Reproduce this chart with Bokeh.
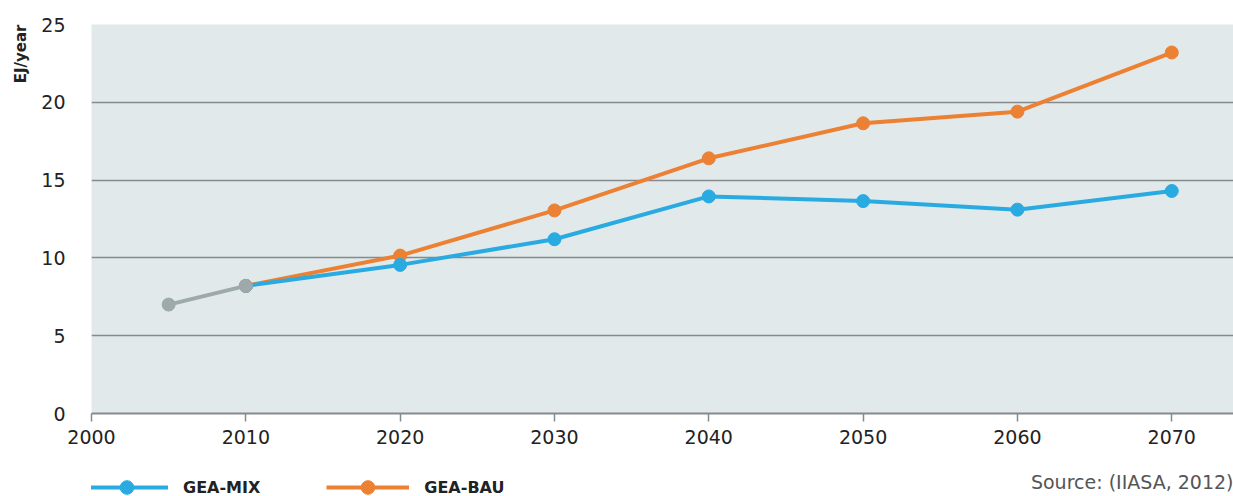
from bokeh.plotting import figure
from bokeh.layouts import column
from bokeh.models import Legend, LegendItem, FixedTicker, Range1d, Title, Label
from bokeh.embed import file_html
from bokeh.resources import INLINE

# Data
hist_years = [2005, 2010]
hist_vals = [7.0, 8.2]
years = [2010, 2020, 2030, 2040, 2050, 2060, 2070]
gea_mix = [8.2, 9.55, 11.2, 13.95, 13.65, 13.1, 14.3]
gea_bau = [8.2, 10.15, 13.05, 16.4, 18.65, 19.4, 23.2]
x_ticks = [2000, 2010, 2020, 2030, 2040, 2050, 2060, 2070]
y_ticks = [0, 5, 10, 15, 20, 25]
series_names = ["GEA-MIX", "GEA-BAU"]

BLUE = "#29ABE2"
ORANGE = "#EC8133"
GRAY = "#9DA9AB"
FONT = "DejaVu Sans"
TXT = "#222222"

p = figure(width=1233, height=460, output_backend="svg", toolbar_location=None,
           x_range=Range1d(2000, 2074), y_range=Range1d(0, 25),
           min_border_left=91, min_border_right=0, min_border_top=24, min_border_bottom=47)
p.background_fill_color = "#E2E9EB"
p.border_fill_color = "white"
p.outline_line_color = None

# grid
p.xgrid.visible = False
p.ygrid.ticker = FixedTicker(ticks=y_ticks)
p.ygrid.grid_line_color = "#858A8C"
p.ygrid.grid_line_width = 1.5

# axes
p.xaxis.ticker = FixedTicker(ticks=x_ticks)
p.xaxis.axis_line_color = "#858A8C"
p.xaxis.axis_line_width = 2
p.xaxis.major_tick_line_color = "#858A8C"
p.xaxis.major_tick_line_width = 1.5
p.xaxis.major_tick_out = 8
p.xaxis.major_tick_in = 0
p.xaxis.minor_tick_line_color = None
p.xaxis.major_label_text_font = FONT
p.xaxis.major_label_text_font_size = "19px"
p.xaxis.major_label_text_color = TXT
p.xaxis.major_label_standoff = 8

p.yaxis.ticker = FixedTicker(ticks=y_ticks)
p.yaxis.axis_line_color = None
p.yaxis.major_tick_line_color = None
p.yaxis.minor_tick_line_color = None
p.yaxis.major_label_text_font = FONT
p.yaxis.major_label_text_font_size = "19px"
p.yaxis.major_label_text_color = TXT
p.yaxis.major_label_standoff = 20

# series
p.line(years, gea_bau, line_color=ORANGE, line_width=4)
p.scatter(years, gea_bau, size=13, fill_color=ORANGE, line_color=ORANGE)
p.line(years, gea_mix, line_color=BLUE, line_width=4)
p.scatter(years, gea_mix, size=13, fill_color=BLUE, line_color=BLUE)
p.line(hist_years, hist_vals, line_color=GRAY, line_width=4)
p.scatter(hist_years, hist_vals, size=13, fill_color=GRAY, line_color=GRAY)

p.add_layout(Title(text="EJ/year", align="right", text_font=FONT, text_font_style="bold",
                   text_font_size="15px", text_color=TXT, standoff=18), "left")

# legend strip below the chart (its frame is aligned with the chart frame)
lg = figure(width=1233, height=36, output_backend="svg", toolbar_location=None,
            x_range=Range1d(2000, 2074), y_range=Range1d(-100, -64),
            x_axis_type=None, y_axis_type=None, min_border=0)
lg.outline_line_color = None
lg.xgrid.visible = False
lg.ygrid.visible = False
lg.background_fill_color = "white"
lg.border_fill_color = "white"

# legend key renderers: same series, lying outside this strip's visible range
lm_l = lg.line(years, gea_mix, line_color=BLUE, line_width=4)
lm_m = lg.scatter(years, gea_mix, fill_color=BLUE, line_color=BLUE)
lb_l = lg.line(years, gea_bau, line_color=ORANGE, line_width=4)
lb_m = lg.scatter(years, gea_bau, fill_color=ORANGE, line_color=ORANGE)

legend = Legend(items=[LegendItem(label=series_names[0], renderers=[lm_l, lm_m]),
                       LegendItem(label=series_names[1], renderers=[lb_l, lb_m])],
                orientation="horizontal", location=(-6, -8),
                glyph_width=83, glyph_height=34, label_height=34,
                label_standoff=15, spacing=66, padding=0, margin=0,
                border_line_color=None, background_fill_alpha=0,
                label_text_font=FONT, label_text_font_style="bold",
                label_text_font_size="16px", label_text_color=TXT)
lg.add_layout(legend, "center")
lg.add_layout(Label(x=2074, y=-85, text="Source: (IIASA, 2012)", text_align="right",
                    text_baseline="middle", text_font=FONT, text_font_size="19px",
                    text_color="#555555"))

open("out.html", "w").write(file_html(column(p, lg, spacing=0), INLINE))
